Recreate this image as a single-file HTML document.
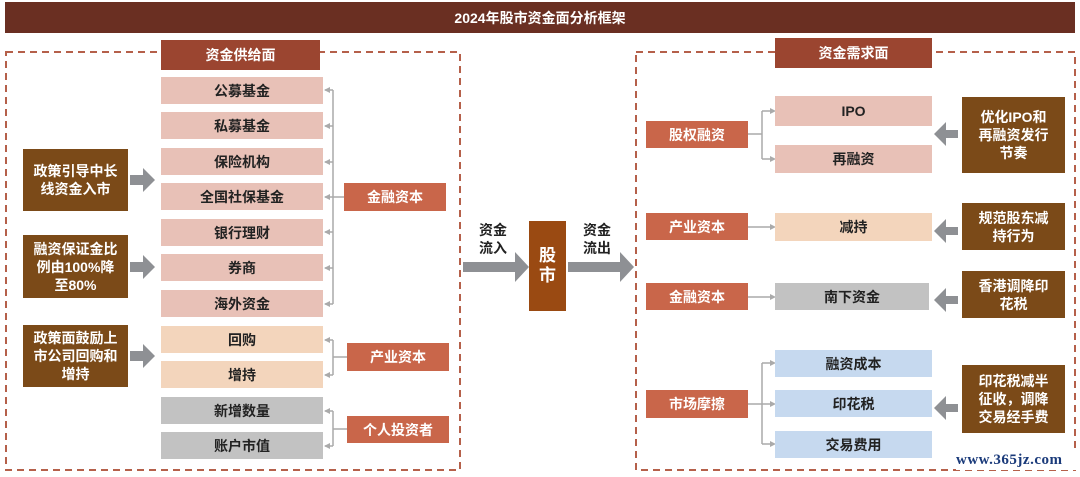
<!DOCTYPE html>
<html><head><meta charset="utf-8"><style>
*{margin:0;padding:0;box-sizing:border-box}
body{width:1080px;height:477px;background:#fff;position:relative;overflow:hidden;font-family:"Liberation Sans","Noto Sans CJK SC",sans-serif;font-weight:bold}
.b{position:absolute;display:flex;align-items:center;justify-content:center;text-align:center;font-size:14px;line-height:18px}
.pk{background:#e8c1b7;color:#222}
.pe{background:#f3d5bc;color:#222}
.gr{background:#c2c2c2;color:#222}
.bl{background:#c6d9ef;color:#222}
.or{background:#c9664a;color:#fff}
.hd{background:#9b4530;color:#fff}
.br{background:#7b4a18;color:#fff}
svg{position:absolute;left:0;top:0}
</style></head><body>
<div class="b" style="left:5px;top:2px;width:1070px;height:31px;background:#6a2f22;color:#fff;font-size:14px">2024年股市资金面分析框架</div>
<svg width="1080" height="477">
<rect x="6" y="52" width="454" height="418" fill="none" stroke="#b5604a" stroke-width="2" stroke-dasharray="7,5"/>
<rect x="636" y="52" width="439" height="418" fill="none" stroke="#b5604a" stroke-width="2" stroke-dasharray="7,5"/>
<g stroke="#aaa" stroke-width="1.5" fill="none">
<path d="M333 90V304M333 197H344M325 90H333M325 126H333M325 162H333M325 197H333M325 232H333M325 268H333M325 304H333"/>
<path d="M333 340V375M325 340H333M325 375H333M333 357H347"/>
<path d="M333 411V446M325 411H333M325 446H333M333 429H347"/>
<path d="M748 134H762M762 111V159M762 111H773M762 159H773"/>
<path d="M748 227H773M748 297H773"/>
<path d="M748 404H773M762 363V444M762 363H773M762 444H773"/>
</g>
<g fill="#aaa">
<path d="M324 90l6-3v6zM324 126l6-3v6zM324 162l6-3v6zM324 197l6-3v6zM324 232l6-3v6zM324 268l6-3v6zM324 304l6-3v6zM324 340l6-3v6zM324 375l6-3v6zM324 411l6-3v6zM324 446l6-3v6z"/>
<path d="M776 111l-6-3v6zM776 159l-6-3v6zM776 227l-6-3v6zM776 297l-6-3v6zM776 363l-6-3v6zM776 404l-6-3v6zM776 444l-6-3v6z"/>
</g>
<g fill="#8e9094">
<path d="M130 175h13v-7l12 12l-12 12v-7h-13z"/>
<path d="M130 262h13v-7l12 12l-12 12v-7h-13z"/>
<path d="M130 351h13v-7l12 12l-12 12v-7h-13z"/>
<path d="M463 262h52v-10l14 15l-14 15v-10h-52z"/>
<path d="M568 262h52v-10l14 15l-14 15v-10h-52z"/>
<path d="M958 130h-12v-8l-12 12l12 12v-8h12z"/>
<path d="M958 227h-12v-8l-12 12l12 12v-8h12z"/>
<path d="M958 296h-12v-8l-12 12l12 12v-8h12z"/>
<path d="M958 404h-12v-8l-12 12l12 12v-8h12z"/>
</g>
</svg>
<div class="b hd" style="left:161px;top:40px;width:159px;height:30px">资金供给面</div>
<div class="b pk" style="left:161px;top:77px;width:162px;height:27px">公募基金</div>
<div class="b pk" style="left:161px;top:112px;width:162px;height:27px">私募基金</div>
<div class="b pk" style="left:161px;top:148px;width:162px;height:27px">保险机构</div>
<div class="b pk" style="left:161px;top:183px;width:162px;height:27px">全国社保基金</div>
<div class="b pk" style="left:161px;top:219px;width:162px;height:27px">银行理财</div>
<div class="b pk" style="left:161px;top:254px;width:162px;height:27px">券商</div>
<div class="b pk" style="left:161px;top:290px;width:162px;height:27px">海外资金</div>
<div class="b pe" style="left:161px;top:326px;width:162px;height:27px">回购</div>
<div class="b pe" style="left:161px;top:361px;width:162px;height:27px">增持</div>
<div class="b gr" style="left:161px;top:397px;width:162px;height:27px">新增数量</div>
<div class="b gr" style="left:161px;top:432px;width:162px;height:27px">账户市值</div>
<div class="b or" style="left:344px;top:183px;width:102px;height:28px">金融资本</div>
<div class="b or" style="left:347px;top:343px;width:102px;height:28px">产业资本</div>
<div class="b or" style="left:347px;top:416px;width:102px;height:27px">个人投资者</div>
<div class="b br" style="left:23px;top:149px;width:105px;height:62px">政策引导中长<br>线资金入市</div>
<div class="b br" style="left:23px;top:235px;width:105px;height:63px">融资保证金比<br>例由100%降<br>至80%</div>
<div class="b br" style="left:23px;top:325px;width:105px;height:62px">政策面鼓励上<br>市公司回购和<br>增持</div>
<div class="b" style="left:468px;top:220px;width:50px;height:38px;color:#222">资金<br>流入</div>
<div class="b" style="left:572px;top:220px;width:50px;height:38px;color:#222">资金<br>流出</div>
<div class="b" style="left:529px;top:221px;width:37px;height:90px;background:#9a4a12;color:#fff;font-size:17px;line-height:20px">股<br>市</div>
<div class="b hd" style="left:775px;top:38px;width:157px;height:30px">资金需求面</div>
<div class="b or" style="left:646px;top:121px;width:102px;height:27px">股权融资</div>
<div class="b or" style="left:646px;top:213px;width:102px;height:27px">产业资本</div>
<div class="b or" style="left:646px;top:283px;width:102px;height:27px">金融资本</div>
<div class="b or" style="left:646px;top:390px;width:102px;height:28px">市场摩擦</div>
<div class="b pk" style="left:775px;top:96px;width:157px;height:30px">IPO</div>
<div class="b pk" style="left:775px;top:145px;width:157px;height:28px">再融资</div>
<div class="b pe" style="left:775px;top:213px;width:157px;height:28px">减持</div>
<div class="b gr" style="left:775px;top:283px;width:154px;height:27px">南下资金</div>
<div class="b bl" style="left:775px;top:350px;width:157px;height:27px">融资成本</div>
<div class="b bl" style="left:775px;top:390px;width:157px;height:27px">印花税</div>
<div class="b bl" style="left:775px;top:431px;width:157px;height:27px">交易费用</div>
<div class="b br" style="left:962px;top:97px;width:103px;height:76px">优化IPO和<br>再融资发行<br>节奏</div>
<div class="b br" style="left:962px;top:203px;width:103px;height:47px">规范股东减<br>持行为</div>
<div class="b br" style="left:962px;top:271px;width:103px;height:47px">香港调降印<br>花税</div>
<div class="b br" style="left:962px;top:365px;width:103px;height:68px">印花税减半<br>征收，调降<br>交易经手费</div>
<div style="position:absolute;left:956px;top:452px;width:120px;height:18px;background:#fff;color:#1a3a7a;font-family:'Liberation Serif',serif;font-size:15px;font-weight:bold;letter-spacing:0.5px">www.365jz.com</div>
</body></html>
